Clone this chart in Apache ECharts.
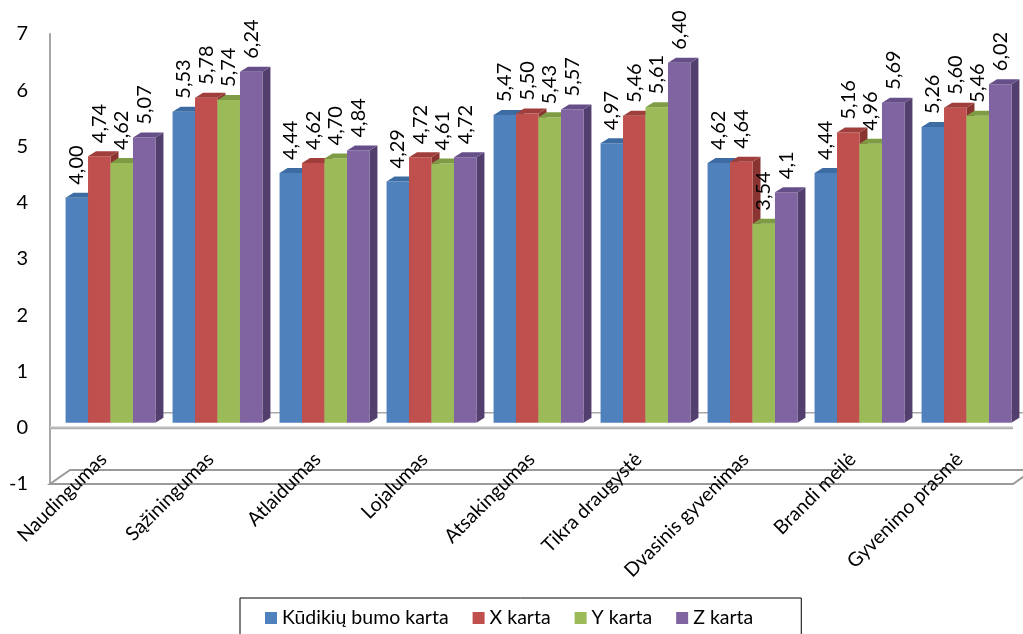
<!DOCTYPE html>
<html>
<head>
<meta charset="utf-8">
<script src="https://cdn.jsdelivr.net/npm/echarts@6/dist/echarts.min.js"></script>
<style>
  html, body { margin: 0; padding: 0; background: #fff; }
  #chart { width: 1023px; height: 634px; }
</style>
</head>
<body>
<div id="chart"></div>
<script>
// Generation value ratings by category
const categories = ['Naudingumas', 'Sąžiningumas', 'Atlaidumas', 'Lojalumas', 'Atsakingumas',
  'Tikra draugystė', 'Dvasinis gyvenimas', 'Brandi meilė', 'Gyvenimo prasmė'];
const seriesNames = ['Kūdikių bumo karta', 'X karta', 'Y karta', 'Z karta'];

const kudikiuBumoKarta = [4.00, 5.53, 4.44, 4.29, 5.47, 4.97, 4.62, 4.44, 5.26];
const xKarta           = [4.74, 5.78, 4.62, 4.72, 5.50, 5.46, 4.64, 5.16, 5.60];
const yKarta           = [4.62, 5.74, 4.70, 4.61, 5.43, 5.61, 3.54, 4.96, 5.46];
const zKarta           = [5.07, 6.24, 4.84, 4.72, 5.57, 6.40, 4.1, 5.69, 6.02];

// decimals shown in each value label
const kudikiuDecimals = [2, 2, 2, 2, 2, 2, 2, 2, 2];
const xDecimals       = [2, 2, 2, 2, 2, 2, 2, 2, 2];
const yDecimals       = [2, 2, 2, 2, 2, 2, 2, 2, 2];
const zDecimals       = [2, 2, 2, 2, 2, 2, 1, 2, 2];

// value axis
const yMin = -1, yMax = 7, yStep = 1;

const seriesValues = [kudikiuBumoKarta, xKarta, yKarta, zKarta];
const seriesDecimals = [kudikiuDecimals, xDecimals, yDecimals, zDecimals];

const FONT = 'Lato';
const frontColors = ['#4F81BD', '#C0504D', '#9BBB59', '#8064A2'];
const topColors   = ['#3D6CA3', '#A03E3B', '#7E9C44', '#664F88'];
const sideColors  = ['#355A88', '#8A3431', '#6A8534', '#523F6E'];

// 3D depth of the columns and of the chart box
const BAR_SHIFT_X = 7, BAR_SHIFT_Y = -5;   // columns sit behind the front plane
const BAR_DX = 8, BAR_DY = -5;             // column depth
const BOX_DX = 20, BOX_DY = -14;           // floor / zero plane depth
const GROUP_FILL = 0.84;                   // share of the category band used by the columns

function fmt(v, d) {
  return v.toFixed(d).replace('.', ',');
}

function columnRenderer(k) {
  return function (params, api) {
    const idx = api.value(0);
    const val = api.value(1);
    const top = api.coord([idx, val]);
    const base = api.coord([idx, 0]);
    const band = api.size([1, 0])[0];
    const bw = band * GROUP_FILL / 4;
    const cx = top[0] + (k - 1.5) * bw + BAR_SHIFT_X;
    const x0 = cx - bw / 2, x1 = cx + bw / 2;
    const yTop = top[1] + BAR_SHIFT_Y;
    const yBot = base[1] + BAR_SHIFT_Y;
    const dec = seriesDecimals[k][idx];
    return {
      type: 'group',
      children: [
        { type: 'polygon', shape: { points: [[x1, yBot], [x1 + BAR_DX, yBot + BAR_DY], [x1 + BAR_DX, yTop + BAR_DY], [x1, yTop]] },
          style: { fill: sideColors[k] } },
        { type: 'rect', shape: { x: x0, y: yTop, width: bw, height: yBot - yTop },
          style: { fill: frontColors[k] } },
        { type: 'polygon', shape: { points: [[x0, yTop], [x1, yTop], [x1 + BAR_DX, yTop + BAR_DY], [x0 + BAR_DX, yTop + BAR_DY]] },
          style: { fill: topColors[k] } },
        { type: 'text', x: cx, y: yTop - 13, rotation: Math.PI / 2,
          style: { text: fmt(val, dec), fill: '#000', fontSize: 20, fontFamily: FONT,
                   align: 'left', verticalAlign: 'middle' } }
      ]
    };
  };
}

// floor at the axis minimum and the plane at zero
function frameRenderer(params, api) {
  const cs = params.coordSys;
  const xa = cs.x, xb = cs.x + cs.width;
  const yf = api.coord([0, yMin])[1];
  const y0 = api.coord([0, 0])[1];
  return {
    type: 'group',
    children: [
      { type: 'polygon', shape: { points: [[xa, yf], [xb, yf], [xb + BOX_DX, yf + BOX_DY], [xa + BOX_DX, yf + BOX_DY]] },
        style: { fill: '#FFFFFF', stroke: '#9A9A9A', lineWidth: 2 } },
      { type: 'line', shape: { x1: xa + BOX_DX, y1: y0 + BOX_DY - 1, x2: xb + BOX_DX, y2: y0 + BOX_DY - 1 },
        style: { stroke: '#A8A8A8', lineWidth: 1.5 } },
      { type: 'line', shape: { x1: xa, y1: y0, x2: xb, y2: y0 },
        style: { stroke: '#B0B0B0', lineWidth: 3 } },
      { type: 'line', shape: { x1: xa, y1: y0 - 1, x2: xb, y2: y0 - 1 },
        style: { stroke: '#E4E4E4', lineWidth: 1 } }
    ]
  };
}

const series = [{
  name: 'frame', type: 'custom', renderItem: frameRenderer, data: [[0, 0]],
  silent: true, clip: false, z: 1, legendHoverLink: false
}];
seriesNames.forEach(function (name, k) {
  series.push({
    name: name,
    type: 'custom',
    renderItem: columnRenderer(k),
    data: seriesValues[k].map(function (v, i) { return [i, v]; }),
    itemStyle: { color: frontColors[k] },
    clip: false,
    z: 2 + k,
    animation: false
  });
});

const chart = echarts.init(document.getElementById('chart'), null, { renderer: 'canvas' });
chart.setOption({
  animation: false,
  backgroundColor: '#FFFFFF',
  grid: { left: 50, right: 10, top: 34, bottom: 150, containLabel: false, outerBoundsMode: 'none' },
  xAxis: {
    type: 'category',
    data: categories,
    z: 20,
    boundaryGap: true,
    axisLine: { show: false },
    axisTick: { show: false },
    splitLine: { show: false },
    axisLabel: { rotate: 45, margin: -28, interval: 0, hideOverlap: false,
                 color: '#000', fontSize: 19.5, fontFamily: FONT }
  },
  yAxis: {
    type: 'value',
    min: yMin, max: yMax, interval: yStep,
    axisLine: { show: true, lineStyle: { color: '#A6A6A6', width: 2 } },
    axisTick: { show: false },
    splitLine: { show: false },
    axisLabel: { margin: 22, color: '#000', fontSize: 20, fontFamily: FONT }
  },
  legend: {
    data: seriesNames,
    left: 240, top: 598,
    orient: 'horizontal',
    icon: 'rect',
    itemWidth: 12, itemHeight: 12, itemGap: 24,
    padding: [10, 48, 20, 25],
    borderColor: '#000', borderWidth: 1,
    textStyle: { color: '#000', fontSize: 19.5, fontFamily: FONT }
  },
  series: series
});
</script>
</body>
</html>
